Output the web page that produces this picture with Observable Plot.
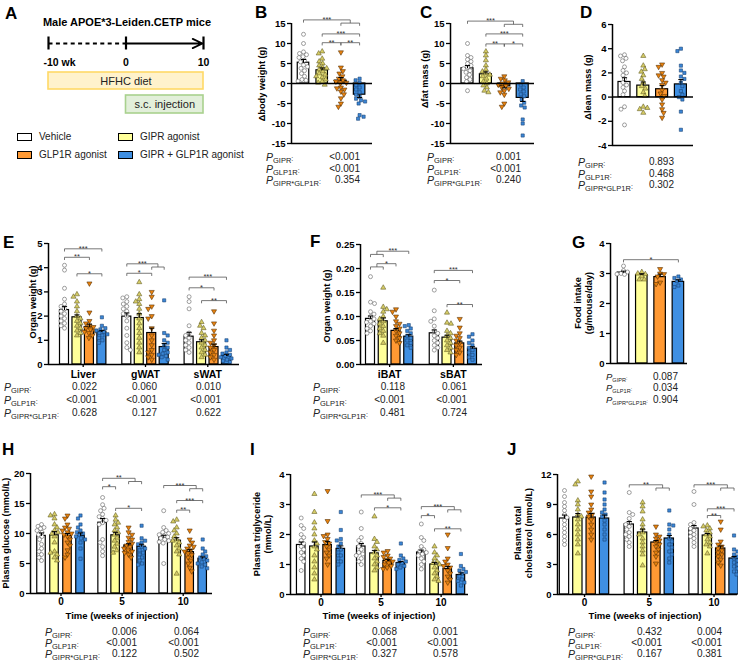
<!DOCTYPE html>
<html><head><meta charset="utf-8">
<script src="https://cdn.jsdelivr.net/npm/d3@7"></script>
<script src="https://cdn.jsdelivr.net/npm/@observablehq/plot@0.6"></script>
<style>
html,body{margin:0;padding:0;background:#fff}
#fig{position:relative;width:738px;height:663px;overflow:hidden;font-family:"Liberation Sans",Arial,sans-serif;color:#000}
.abs{position:absolute;white-space:nowrap}
.letter{font-size:17px;font-weight:bold;line-height:17px}
.ylab{font-size:9.2px;font-weight:bold;line-height:10.5px;text-align:center;transform:translate(-50%,-50%) rotate(-90deg)}
.xlab{font-size:9.5px;font-weight:bold;line-height:11px;transform:translate(-50%,-50%)}
.pl{font-size:10px;line-height:12px;color:#222}
.pv{font-size:10px;line-height:12px;color:#222;text-align:right;width:80px}
.leg{font-size:10px;line-height:12px;color:#222}
.sw{position:absolute;width:13px;height:6px;border:1.2px solid #000}
</style></head>
<body><div id="fig"></div>
<script>
// ---------------- data ----------------
const GROUPS = ["Vehicle","GIPR agonist","GLP1R agonist","GIPR + GLP1R agonist"];
const BAR_FILL = ["#ffffff","#ffff99","#ff9933","#3f8fe2"];
const DOT_FILL = ["#ffffff","#d6cc66","#e8820f","#3b86d6"];
const DOT_STROKE = ["#555555","#5b5620","#4d2a00","#163f6e"];
const SYM = ["circle","triangle","triangle","square"];
const ROT = [0,0,180,0];
const DOT_R = [2.0,1.9,1.9,1.8];
const P_ROWS = ["GIPR","GLP1R","GIPR*GLP1R"];

const TIMELINE_TICKS = [-10,0,10];
const TIMELINE_LABELS = ["-10 wk","0","10"];
const PHASES = [{name:"HFHC diet",start:-10,end:10},{name:"s.c. injection",start:0,end:10}];
const PHASE_FILL = ["#fff2cc","#e2efda"];
const PHASE_STROKE = ["#ffd966","#a9d18e"];

// B: Δbody weight (g)
const B_MEAN = [5.2,3.3,0.7,-2.8];
const B_SEM = [0.8,0.6,0.8,0.7];
const B_PTS = [
 [12.3,10.0,7.9,7.5,7.2,6.7,6.5,5.8,5.4,4.6,4.2,3.8,3.2,2.5,1.8,1.0,0.8,0.6],
 [8.0,7.5,6.2,5.5,5.0,4.5,4.0,3.8,3.5,3.0,2.5,2.2,1.8,1.5,1.0,0.5,0.2,-0.3],
 [7.8,4.0,3.1,2.5,1.8,1.2,0.8,0.5,0.2,0.0,-1.0,-1.2,-1.5,-2.0,-2.7,-3.7,-5.0,-5.8],
 [1.2,0.8,0.2,-0.4,-1.0,-1.5,-2.2,-2.8,-3.3,-3.8,-4.2,-4.5,-5.0,-7.9,-8.3,-8.8]
];
const B_P = ["<0.001","<0.001","0.354"];
// C: Δfat mass (g)
const C_MEAN = [3.8,2.3,-0.7,-3.6];
const C_SEM = [0.7,0.6,0.4,0.9];
const C_PTS = [
 [10.0,7.0,6.5,6.0,5.5,5.0,4.5,4.0,3.7,3.2,2.8,2.2,1.5,1.0,0.5,-1.8],
 [8.0,7.0,5.8,4.5,3.5,3.0,2.5,2.2,1.8,1.2,0.5,0.0,-0.5,-1.0,-1.8,-2.2],
 [1.8,1.2,0.8,0.3,0.0,-0.3,-0.6,-1.0,-1.3,-1.8,-2.2,-2.8,-5.0,-5.8],
 [0.6,-0.3,-1.0,-1.5,-2.0,-2.7,-3.2,-4.0,-4.8,-5.5,-6.0,-9.0,-10.0,-13.0]
];
const C_P = ["0.001","<0.001","0.240"];
// D: Δlean mass (g)
const D_MEAN = [1.25,0.95,0.65,1.05];
const D_SEM = [0.35,0.3,0.3,0.4];
const D_PTS = [
 [3.5,3.4,3.2,3.0,2.5,2.2,2.0,1.8,1.5,1.2,1.0,0.8,0.5,0.2,-0.8,-1.0,-2.3],
 [3.4,2.6,2.3,2.1,1.8,1.5,1.2,0.9,0.7,0.4,0.1,-0.8,-0.9,-1.0,-1.3],
 [2.7,2.5,2.0,1.8,1.7,1.4,1.2,1.0,0.6,0.3,0.1,-0.2,-0.6,-1.0,-1.3,-1.7],
 [4.0,3.8,2.6,2.2,2.0,1.7,1.5,1.2,0.9,0.5,0.2,0.0,-0.2,-1.2,-2.7]
];
const D_P = ["0.893","0.468","0.302"];
// E: organ weight (g)
const E_CATS = ["Liver","gWAT","sWAT"];
const E_MEAN = [[2.25,1.95,1.55,1.35],[1.98,1.92,1.3,0.72],[1.15,0.92,0.72,0.35]];
const E_SEM = [[0.15,0.1,0.12,0.06],[0.15,0.18,0.2,0.15],[0.18,0.1,0.12,0.07]];
const E_PTS = [
 [[4.1,3.9,3.15,2.7,2.5,2.4,2.3,2.2,2.1,2.0,1.9,1.8,1.7,1.6,1.5],
  [2.9,2.8,2.6,2.4,2.2,2.0,1.9,1.8,1.7,1.6,1.5,1.4,1.3,1.2],
  [3.35,2.15,1.8,1.7,1.6,1.55,1.5,1.45,1.4,1.35,1.3,1.2,1.1],
  [1.95,1.6,1.5,1.45,1.4,1.35,1.3,1.25,1.2,1.1,1.0,0.9]],
 [[2.8,2.75,2.6,2.5,2.4,2.3,2.2,2.1,2.0,1.8,1.5,1.2,0.9,0.7,0.6],
  [3.4,2.9,2.7,2.6,2.5,2.3,2.1,1.9,1.7,1.5,1.3,1.1,0.9,0.7,0.5],
  [3.0,2.8,2.4,2.3,2.0,1.9,1.5,1.2,1.0,0.8,0.6,0.5,0.4,0.3,0.2],
  [2.65,1.3,1.2,1.0,0.9,0.8,0.7,0.6,0.5,0.45,0.4,0.35,0.3,0.2]],
 [[2.8,2.6,2.3,1.6,1.3,1.2,1.1,1.0,0.9,0.8,0.7,0.6,0.5],
  [1.75,1.6,1.5,1.3,1.2,1.1,1.0,0.9,0.8,0.7,0.6,0.5,0.4,0.3],
  [2.2,1.7,1.4,1.2,1.0,0.9,0.8,0.7,0.6,0.5,0.4,0.3,0.2],
  [1.0,0.7,0.6,0.5,0.45,0.4,0.35,0.3,0.25,0.2,0.15,0.1]]
];
const E_P = [["0.022","<0.001","0.628"],["0.060","<0.001","0.127"],["0.010","<0.001","0.622"]];
// F: organ weight (g), BAT
const F_CATS = ["iBAT","sBAT"];
const F_MEAN = [[0.095,0.09,0.07,0.058],[0.065,0.056,0.044,0.033]];
const F_SEM = [[0.006,0.007,0.005,0.004],[0.007,0.005,0.005,0.004]];
const F_PTS = [
 [[0.183,0.13,0.127,0.11,0.105,0.1,0.095,0.09,0.088,0.085,0.08,0.075,0.07,0.065],
  [0.16,0.12,0.115,0.11,0.1,0.095,0.09,0.085,0.08,0.075,0.07,0.065,0.06,0.045],
  [0.115,0.11,0.1,0.09,0.085,0.08,0.075,0.07,0.065,0.06,0.055,0.05,0.045],
  [0.082,0.08,0.075,0.07,0.065,0.06,0.055,0.05,0.045,0.04,0.035]],
 [[0.155,0.112,0.095,0.09,0.08,0.07,0.065,0.06,0.055,0.05,0.045,0.04,0.035,0.03],
  [0.108,0.087,0.085,0.07,0.065,0.06,0.055,0.05,0.045,0.04,0.035,0.03,0.025],
  [0.095,0.077,0.065,0.06,0.055,0.05,0.045,0.04,0.035,0.03,0.025,0.02],
  [0.063,0.058,0.05,0.045,0.04,0.035,0.03,0.025,0.02,0.015,0.01]]
];
const F_P = [["0.118","<0.001","0.481"],["0.061","<0.001","0.724"]];
// G: food intake (g/mouse/day)
const G_MEAN = [3.03,2.95,2.88,2.72];
const G_SEM = [0.05,0.04,0.1,0.07];
const G_PTS = [
 [3.25,3.1,3.05,3.0,2.98,2.97],
 [3.05,3.0,2.98,2.9,2.8,2.8],
 [3.15,3.0,2.98,2.9,2.7,2.65],
 [2.9,2.85,2.8,2.75,2.6,2.55]
];
const G_P = ["0.087","0.034","0.904"];
// H/I/J time points
const TIME_LABELS = ["0","5","10"];
const H_MEAN = [[9.6,9.7,9.6,9.6],[11.8,9.7,8.0,7.8],[9.3,8.8,6.9,5.8]];
const H_SEM = [[0.5,0.6,0.4,0.5],[0.7,0.5,0.3,0.4],[0.4,0.5,0.4,0.3]];
const H_PTS = [
 [[11.5,11.2,11.0,10.8,10.5,10.2,9.8,9.5,9.0,8.2,7.5,7.0,6.5,6.0,5.5],
  [13.2,13.0,12.5,11.5,11.0,10.5,10.2,10.0,9.5,8.5,7.0,6.8,6.5,6.0,5.5],
  [13.0,12.5,11.5,11.0,10.8,10.5,10.2,10.0,9.8,9.5,9.0,8.5,8.0,7.2,6.5,6.0],
  [13.0,12.5,11.5,11.0,10.5,10.2,10.0,9.8,9.5,9.2,9.0,8.5,7.5,5.8]],
 [[16.0,14.8,14.2,13.8,13.2,12.8,12.5,12.2,11.8,11.5,9.0,8.5,7.8,7.0,6.3],
  [13.0,12.3,11.8,11.5,11.0,10.5,10.2,9.8,9.3,8.8,8.3,7.8,7.2,6.8],
  [11.0,10.2,9.8,9.3,9.0,8.6,8.3,8.0,7.8,7.5,7.2,7.0,6.8,6.5,6.0],
  [11.3,9.2,8.8,8.5,8.2,7.8,7.5,7.2,6.8,6.5,6.0,5.5,5.0,4.8]],
 [[13.8,11.0,10.5,10.2,10.0,9.8,9.6,9.4,9.2,9.0,8.8,8.6,8.4,5.0],
  [12.3,12.0,11.0,10.5,10.0,9.5,9.0,8.8,8.5,8.0,7.5,7.0,6.5,3.3],
  [10.5,9.0,8.5,8.0,7.8,7.5,7.2,7.0,6.7,6.4,6.0,5.5,5.0,4.3,3.7],
  [9.0,7.5,7.0,6.5,6.2,6.0,5.8,5.5,5.2,5.0,4.8,4.5,4.2]]
];
const H_P = [["0.006","<0.001","0.122"],["0.064","<0.001","0.502"]];
const I_MEAN = [[1.65,1.6,1.65,1.52],[1.6,1.37,1.12,1.05],[1.4,1.0,0.85,0.65]];
const I_SEM = [[0.1,0.15,0.12,0.1],[0.1,0.1,0.05,0.05],[0.08,0.07,0.08,0.07]];
const I_PTS = [
 [[2.55,2.3,2.2,2.0,1.9,1.8,1.7,1.6,1.5,1.4,1.3,1.2,1.1,0.8],
  [3.35,2.75,2.4,2.2,2.0,1.8,1.7,1.6,1.5,1.3,1.1,0.9,0.7,0.5],
  [3.45,2.45,2.0,1.95,1.85,1.75,1.7,1.6,1.5,1.4,1.3,1.2,1.0],
  [2.75,2.15,1.85,1.8,1.7,1.6,1.5,1.4,1.3,1.2,1.1,1.0]],
 [[2.75,2.2,1.9,1.8,1.7,1.6,1.5,1.4,1.35,1.3,1.2,1.1,1.0],
  [2.6,1.85,1.75,1.6,1.5,1.4,1.3,1.2,1.1,1.0,0.9,0.8],
  [1.45,1.4,1.3,1.25,1.2,1.15,1.1,1.05,1.0,0.95,0.9,0.85],
  [1.7,1.3,1.2,1.15,1.1,1.05,1.0,0.95,0.9,0.85]],
 [[2.35,1.9,1.8,1.6,1.5,1.45,1.4,1.35,1.3,1.2,1.1,1.0,0.85],
  [1.6,1.4,1.3,1.2,1.1,1.05,1.0,0.9,0.8,0.7,0.6,0.5,0.45],
  [2.0,1.55,1.2,1.1,1.0,0.95,0.9,0.8,0.7,0.6,0.5,0.4],
  [1.35,0.95,0.85,0.8,0.75,0.7,0.6,0.5,0.45,0.4,0.3]]
];
const I_P = [["0.068","<0.001","0.327"],["0.001","<0.001","0.578"]];
const J_MEAN = [[7.6,7.7,7.7,7.6],[7.0,6.2,5.2,5.6],[6.6,5.9,4.6,3.6]];
const J_SEM = [[0.35,0.4,0.4,0.35],[0.3,0.35,0.2,0.3],[0.3,0.2,0.25,0.2]];
const J_PTS = [
 [[10.4,9.8,9.2,8.8,8.4,8.0,7.7,7.4,7.0,6.6,6.2,5.8,5.4,5.0],
  [11.3,11.0,9.4,9.0,8.5,8.0,7.8,7.5,7.0,6.5,6.0,5.5,5.0,4.1],
  [11.8,10.3,9.8,9.0,8.5,8.2,8.0,7.8,7.5,7.0,6.5,6.0,5.5],
  [11.2,10.2,9.5,9.0,8.5,8.2,8.0,7.8,7.4,7.0,6.5,6.0,5.5]],
 [[10.2,8.2,8.0,7.6,7.2,7.0,6.8,6.5,6.2,6.0,5.8,5.5,5.2,4.8],
  [9.2,8.8,8.3,7.5,7.0,6.6,6.2,6.0,5.6,5.2,4.8,4.4,4.0,2.9],
  [6.8,6.0,5.8,5.6,5.4,5.2,5.0,4.8,4.5,4.2,3.8,3.1],
  [8.4,7.0,6.9,6.5,6.0,5.6,5.3,5.0,4.7,4.3,4.0,3.6,3.2]],
 [[10.3,9.0,7.2,7.0,6.8,6.6,6.4,6.2,6.0,5.8,5.6,5.2,4.8],
  [6.9,6.8,6.6,6.4,6.2,6.0,5.8,5.5,5.2,5.0,4.8,4.1],
  [7.3,6.5,5.3,5.0,4.8,4.6,4.4,4.2,4.0,3.8,3.5,3.2,2.9],
  [5.9,4.5,4.3,4.0,3.8,3.6,3.4,3.2,3.0,2.8,2.6,2.3,2.0]]
];
const J_P = [["0.432","<0.001","0.167"],["0.004","<0.001","0.381"]];

// significance brackets (group indices; array = pooled pair)
const B_SIG = [{a:0,b:[2,3],y:15.9,t:"***"},{a:1,b:3,y:12.4,t:"***"},{a:1,b:2,y:10.2,t:"**"},{a:2,b:3,y:10.2,t:"**"}];
const C_SIG = [{a:0,b:[2,3],y:15.6,t:"***"},{a:1,b:3,y:12.4,t:"***"},{a:1,b:2,y:9.9,t:"**"},{a:2,b:3,y:9.9,t:"*"}];
const E_SIG = [{c:0,a:0,b:3,y:4.78,t:"***"},{c:0,a:0,b:2,y:4.43,t:"**"},{c:0,a:1,b:3,y:3.75,t:"*"},
 {c:1,a:0,b:[2,3],y:4.16,t:"***"},{c:1,a:0,b:2,y:3.77,t:"*"},
 {c:2,a:0,b:3,y:3.61,t:"***"},{c:2,a:0,b:2,y:3.17,t:"*"},{c:2,a:1,b:3,y:2.64,t:"**"}];
const F_SIG = [{c:0,a:[0,1],b:3,y:0.236,t:"***"},{c:0,a:[0,1],b:2,y:0.21,t:"*"},
 {c:1,a:0,b:3,y:0.196,t:"***"},{c:1,a:0,b:2,y:0.175,t:"*"},{c:1,a:1,b:3,y:0.125,t:"**"}];
const G_SIG = [{a:0,b:3,y:3.46,t:"*"}];
const H_SIG = [{c:1,a:0,b:[2,3],y:19.2,t:"**"},{c:1,a:0,b:1,y:17.8,t:"*"},{c:1,a:1,b:3,y:14.2,t:"*"},
 {c:2,a:0,b:[2,3],y:18.0,t:"***"},{c:2,a:1,b:3,y:15.5,t:"***"},{c:2,a:1,b:2,y:13.9,t:"**"}];
const I_SIG = [{c:1,a:0,b:[2,3],y:3.32,t:"***"},{c:1,a:1,b:3,y:2.89,t:"*"},
 {c:2,a:0,b:[2,3],y:2.93,t:"***"},{c:2,a:0,b:1,y:2.63,t:"*"},{c:2,a:1,b:3,y:2.19,t:"**"}];
const J_SIG = [{c:1,a:0,b:[2,3],y:10.97,t:"**"},{c:2,a:0,b:[2,3],y:10.97,t:"***"},
 {c:2,a:1,b:3,y:8.57,t:"***"},{c:2,a:1,b:2,y:7.9,t:"**"}];

// ---------------- layout ----------------
const fig = document.getElementById("fig");
function div(html, cls, css) {
  const d = document.createElement("div");
  d.className = "abs " + (cls || "");
  d.innerHTML = html;
  Object.assign(d.style, css);
  fig.appendChild(d);
  return d;
}
const PSTYLE = {background:"transparent", fontFamily:"'Liberation Sans', Arial, sans-serif", fontSize:"9.5px", fontWeight:"bold", color:"black", overflow:"visible", maxWidth:"none"};

function swarm(vals, pxY, maxOff, d) {
  const order = vals.map((_, i) => i).sort((a, b) => vals[b] - vals[a]);
  const placed = [], out = new Array(vals.length);
  order.forEach((i, n) => {
    const y = vals[i] * pxY, sgn = n % 2 ? -1 : 1;
    let chosen = null, best = 0, bestD = -1;
    for (let k = 0; k * 0.5 <= maxOff; k++) {
      for (const s of (k ? [sgn, -sgn] : [1])) {
        const o = s * k * 0.5;
        let md = Infinity;
        for (const p of placed) { const dd = Math.hypot(p.x - o, p.y - y); if (dd < md) md = dd; }
        if (md >= d) { chosen = o; break; }
        if (md > bestD) { bestD = md; best = o; }
      }
      if (chosen !== null) break;
    }
    if (chosen === null) chosen = best;
    out[i] = chosen; placed.push({x: chosen, y});
  });
  return out;
}

function bracketMarks(sig, pos, pxY) {
  const tk = 2.7 / pxY, gap = 3.2 / pxY;
  const segs = [], labels = [];
  const end = (c, e, y) => {
    if (Array.isArray(e)) {
      const p = pos(c, e[0]), q = pos(c, e[1]), m = (p + q) / 2, ys = y - gap;
      segs.push({x1:m,x2:m,y1:y,y2:ys},{x1:p,x2:q,y1:ys,y2:ys},{x1:p,x2:p,y1:ys,y2:ys-tk},{x1:q,x2:q,y1:ys,y2:ys-tk});
      return m;
    }
    const p = pos(c, e);
    segs.push({x1:p,x2:p,y1:y,y2:y-tk});
    return p;
  };
  for (const s of sig) {
    const c = s.c || 0;
    const xa = end(c, s.a, s.y), xb = end(c, s.b, s.y);
    segs.push({x1:xa,x2:xb,y1:s.y,y2:s.y});
    labels.push({x:(xa+xb)/2, y:s.y, t:s.t});
  }
  return [
    Plot.link(segs, {x1:"x1",x2:"x2",y1:"y1",y2:"y2",stroke:"#555",strokeWidth:0.8}),
    Plot.text(labels, {x:"x",y:"y",text:"t",lineAnchor:"bottom",dy:2,fontSize:7.5,fontWeight:"normal",fill:"#333"})
  ];
}

function drawPanel(P) {
  const g = P.geom, mL = 32, mR = 6, mT = 26, mB = 24;
  const W = g.right - g.left + mL + mR, H = g.bottom - g.top + mT + mB;
  const [ymin, ymax] = P.ydomain;
  const pxY = (g.bottom - g.top) / (ymax - ymin);
  const x0 = (g.left - g.first) / g.unit, x1 = (g.right - g.first) / g.unit;
  const pos = (c, i) => c * g.stride + i;
  const bw = g.barPx / g.unit, cap = 2.6 / g.unit;
  const bars = [], errs = [], dots = [];
  P.means.forEach((ms, c) => ms.forEach((m, i) => {
    const p = pos(c, i);
    bars.push({x1:p-bw/2, x2:p+bw/2, y1:0, y2:m, g:i});
    const s = P.sems[c][i] * (m < 0 ? -1 : 1);
    errs.push({x:p, y1:m, y2:m+s});
    const vals = P.pts[c][i];
    const offs = swarm(vals, pxY, g.barPx/2 + 1.2, 3.9);
    vals.forEach((v, k) => dots.push({x:p + offs[k]/g.unit, y:v, g:i}));
  }));
  const lines = [{x1:x0,x2:x1,y:0}];
  if (P.bottomLine) lines.push({x1:x0,x2:x1,y:ymin});
  const marks = [
    Plot.rect(bars, {x1:"x1",x2:"x2",y1:"y1",y2:"y2",fill:d=>BAR_FILL[d.g],stroke:"black",strokeWidth:1.2}),
    ...[0,1,2,3].map(k => Plot.dot(dots.filter(d => d.g === k), {x:"x",y:"y",r:DOT_R[k],symbol:SYM[k],rotate:ROT[k],fill:DOT_FILL[k],stroke:DOT_STROKE[k],strokeWidth:0.55})),
    Plot.link(errs, {x1:"x",x2:"x",y1:"y1",y2:"y2",stroke:"black",strokeWidth:1}),
    Plot.link(errs, {x1:d=>d.x-cap,x2:d=>d.x+cap,y1:"y2",y2:"y2",stroke:"black",strokeWidth:1}),
    Plot.ruleY(lines, {x1:"x1",x2:"x2",y:"y",stroke:"black",strokeWidth:1.5}),
    Plot.ruleX([{x:x0,y1:ymin,y2:ymax}], {x:"x",y1:"y1",y2:"y2",stroke:"black",strokeWidth:1.5}),
    Plot.axisY({ticks:P.yticks, tickFormat:P.yfmt || (d => String(d)), tickSize:4, tickPadding:2, strokeWidth:1.3, fontSize:9.5}),
    ...bracketMarks(P.sig || [], pos, pxY)
  ];
  if (P.cats) {
    const centers = P.cats.map((_, c) => pos(c, 1.5));
    const names = new Map(centers.map((v, c) => [v, P.cats[c]]));
    marks.push(Plot.axisX({ticks:centers, tickFormat:d => names.get(d), tickSize:3, tickPadding:P.catPad || 2, strokeWidth:1.3, fontSize:P.catSize || 10}));
  }
  const svg = Plot.plot({
    width:W, height:H, marginLeft:mL, marginRight:mR, marginTop:mT, marginBottom:mB,
    x:{domain:[x0,x1], axis:null}, y:{domain:[ymin,ymax], axis:null},
    color:{type:"identity"}, style:PSTYLE, marks
  });
  const holder = div("", "", {left:(g.left - mL) + "px", top:(g.top - mT) + "px", width:W + "px", height:H + "px"});
  holder.appendChild(svg);
  div(P.ylab, "ylab", {left:P.ylabPos[0] + "px", top:P.ylabPos[1] + "px"});
  if (P.xlab) div(P.xlab, "xlab", {left:P.xlabPos[0] + "px", top:P.xlabPos[1] + "px"});
  const L = P.plabel, sub = L.sub || 7.5, pz = L.p || 10.5;
  P_ROWS.forEach((r, ri) => {
    div(`<i style="font-size:${pz}px">P</i><span style="font-size:${sub}px;position:relative;top:2px">${r}</span><span style="font-size:${sub - 0.5}px">:</span>`, "pl", {left:L.lx + "px", top:(L.rows[ri] - 6) + "px"});
    L.cols.forEach((rx, ci) => {
      div(P.pvals[ci][ri], "pv", {left:(rx - 80) + "px", top:(L.rows[ri] - 6) + "px"});
    });
  });
}

// ---------------- panel A ----------------
div("Male APOE*3-Leiden.CETP mice", "", {left:"127px", top:"16px", fontSize:"11px", fontWeight:"bold", transform:"translateX(-50%)", lineHeight:"13px"});
{
  const ROW = {line:43, tick:6.5, label:62, phase:[[72,89],[95,113]]};
  const svgA = Plot.plot({
    width:240, height:125, margin:0,
    x:{domain:[-10,10], range:[48,203], axis:null},
    y:{domain:[0,125], range:[0,125], axis:null},
    color:{type:"identity"}, style:PSTYLE,
    marks:[
      Plot.rect(PHASES, {x1:"start", x2:"end", y1:(d,i)=>ROW.phase[i][0], y2:(d,i)=>ROW.phase[i][1], fill:(d,i)=>PHASE_FILL[i], stroke:(d,i)=>PHASE_STROKE[i], strokeWidth:1.6}),
      Plot.text(PHASES, {x:d=>(d.start+d.end)/2, y:(d,i)=>(ROW.phase[i][0]+ROW.phase[i][1])/2, text:"name", fontWeight:"normal", fontSize:11, fill:"#222"}),
      Plot.link([{a:-10,b:0}], {x1:"a", x2:"b", y1:ROW.line, y2:ROW.line, stroke:"black", strokeWidth:2.2, strokeDasharray:"4,3.4"}),
      Plot.arrow([{a:0,b:10}], {x1:"a", x2:"b", y1:ROW.line, y2:ROW.line, stroke:"black", strokeWidth:1.8, headLength:9, headAngle:50, insetEnd:1}),
      Plot.ruleX(TIMELINE_TICKS, {x:d=>d, y1:ROW.line-ROW.tick, y2:ROW.line+ROW.tick, stroke:"black", strokeWidth:2.2}),
      Plot.text(TIMELINE_TICKS.slice(0,1), {x:d=>d, y:ROW.label, text:(d,i)=>TIMELINE_LABELS[i], textAnchor:"start", dx:-5, fontSize:10.5}),
      Plot.text(TIMELINE_TICKS.slice(1), {x:d=>d, y:ROW.label, text:(d,i)=>TIMELINE_LABELS[i+1], fontSize:10.5})
    ]
  });
  const h = div("", "", {left:"0px", top:"0px", width:"240px", height:"125px"});
  h.appendChild(svgA);
}
GROUPS.forEach((name, i) => {
  const x = i % 2 ? 118 : 17, y = i < 2 ? 137 : 155;
  const s = document.createElement("div");
  s.className = "sw"; Object.assign(s.style, {left:x + "px", top:(y - 4) + "px", background:BAR_FILL[i]});
  fig.appendChild(s);
  div(name, "leg", {left:(x + 22) + "px", top:(y - 6) + "px"});
});

// ---------------- panels ----------------
const TIME_X = "Time (weeks of injection)";
drawPanel({geom:{left:291,right:372,top:23,bottom:143,first:303,unit:18.7,stride:0,barPx:11.5},
  ydomain:[-15,15], yticks:[-15,-10,-5,0,5,10,15], bottomLine:true,
  means:[B_MEAN], sems:[B_SEM], pts:[B_PTS], sig:B_SIG,
  ylab:"Δbody weight (g)", ylabPos:[262,84],
  plabel:{lx:266, rows:[157,169,180], cols:[360]}, pvals:[B_P]});
drawPanel({geom:{left:450,right:534,top:23,bottom:143,first:467,unit:18.4,stride:0,barPx:12},
  ydomain:[-15,15], yticks:[-15,-10,-5,0,5,10,15], bottomLine:true,
  means:[C_MEAN], sems:[C_SEM], pts:[C_PTS], sig:C_SIG,
  ylab:"Δfat mass (g)", ylabPos:[425,79],
  plabel:{lx:427, rows:[157,169,180], cols:[521]}, pvals:[C_P]});
drawPanel({geom:{left:612,right:693,top:24,bottom:145,first:624,unit:18.8,stride:0,barPx:12},
  ydomain:[-4,6], yticks:[-4,-2,0,2,4,6], bottomLine:true,
  means:[D_MEAN], sems:[D_SEM], pts:[D_PTS], sig:[],
  ylab:"Δlean mass (g)", ylabPos:[588,87],
  plabel:{lx:578, rows:[162,174,185], cols:[674]}, pvals:[D_P]});
drawPanel({geom:{left:48,right:239,top:243,bottom:364,first:64,unit:12.46,stride:5,barPx:9},
  ydomain:[0,5], yticks:[0,1,2,3,4,5],
  means:E_MEAN, sems:E_SEM, pts:E_PTS, sig:E_SIG, cats:E_CATS, catSize:10.5, catPad:3,
  ylab:"Organ weight (g)", ylabPos:[33,302],
  plabel:{lx:4, rows:[387,400,413], cols:[97,157,221]}, pvals:E_P});
drawPanel({geom:{left:360,right:482,top:244,bottom:364,first:370,unit:12.75,stride:5,barPx:9},
  ydomain:[0,0.25], yticks:[0,0.05,0.10,0.15,0.20,0.25], yfmt:d3.format(".2f"),
  means:F_MEAN, sems:F_SEM, pts:F_PTS, sig:F_SIG, cats:F_CATS, catSize:10.5, catPad:3,
  ylab:"Organ weight (g)", ylabPos:[327,306],
  plabel:{lx:313, rows:[387,400,413], cols:[405,467]}, pvals:F_P});
drawPanel({geom:{left:610,right:687,top:243,bottom:363,first:623,unit:18.3,stride:0,barPx:11.5},
  ydomain:[0,4], yticks:[0,1,2,3,4],
  means:[G_MEAN], sems:[G_SEM], pts:[G_PTS], sig:G_SIG,
  ylab:"Food intake<br>(g/mouse/day)", ylabPos:[583,303],
  plabel:{lx:606, rows:[377,388,400], cols:[678], sub:5.6, p:9.5}, pvals:[G_P]});
drawPanel({geom:{left:30,right:212,top:473,bottom:593,first:41,unit:13,stride:4.7,barPx:8.5},
  ydomain:[0,20], yticks:[0,5,10,15,20],
  means:H_MEAN, sems:H_SEM, pts:H_PTS, sig:H_SIG, cats:TIME_LABELS, catSize:10, catPad:1,
  ylab:"Plasma glucose (mmol/L)", ylabPos:[6,533], xlab:TIME_X, xlabPos:[122,614.5],
  plabel:{lx:45, rows:[632,643,654], cols:[137,199]}, pvals:H_P});
drawPanel({geom:{left:290,right:468,top:474,bottom:594,first:300.7,unit:13.2,stride:4.55,barPx:8.5},
  ydomain:[0,4], yticks:[0,1,2,3,4],
  means:I_MEAN, sems:I_SEM, pts:I_PTS, sig:I_SIG, cats:TIME_LABELS, catSize:10, catPad:1,
  ylab:"Plasma triglyceride<br>(mmol/L)", ylabPos:[262,534], xlab:TIME_X, xlabPos:[379,614.5],
  plabel:{lx:303, rows:[632,643,654], cols:[397,458]}, pvals:I_P});
drawPanel({geom:{left:557,right:737,top:474,bottom:594,first:564,unit:13.35,stride:4.85,barPx:9.3},
  ydomain:[0,12], yticks:[0,3,6,9,12],
  means:J_MEAN, sems:J_SEM, pts:J_PTS, sig:J_SIG, cats:TIME_LABELS, catSize:10, catPad:1,
  ylab:"Plasma total<br>cholesterol (mmol/L)", ylabPos:[523,533], xlab:TIME_X, xlabPos:[645,614.5],
  plabel:{lx:568, rows:[632,643,654], cols:[662,722]}, pvals:J_P});

[["A",5,5],["B",255,4],["C",420,4],["D",580,4],["E",3,234],["F",310,233],["G",572,234],["H",2,441],["I",250,441],["J",507,441]]
  .forEach(([t,x,y]) => div(t, "letter", {left:x+"px", top:y+"px"}));
</script></body></html>
